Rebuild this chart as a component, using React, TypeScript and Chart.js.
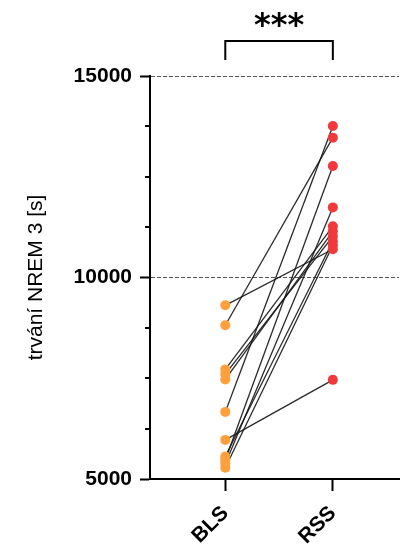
import React, { useEffect, useRef } from "react";
import { Chart, registerables } from "chart.js";

Chart.register(...registerables);

// Paired NREM 3 durations per subject, baseline sleep (BLS) vs recovery sleep (RSS)
const groups = ["BLS", "RSS"];
const blsValues = [9310, 8815, 7720, 7600, 7470, 6665, 5970, 5560, 5470, 5380, 5280];
const rssValues = [10700, 13470, 11270, 11020, 11145, 13760, 7460, 10900, 12765, 11740, 10800];
const yMin = 5000;
const yMax = 15000;
const yMinorStep = 1250;
const yMajorStep = 5000;
const yDashedLines = [10000, 15000];
const significance = "***";
const yTitle = "trvání NREM 3 [s]";

const ORANGE = "#FFA03C";
const RED = "#F0393C";
const FONT = "'Liberation Sans', Arial, sans-serif";

// Minor y ticks and the significance bracket above both groups
const decorPlugin = {
  id: "decor",
  afterDraw(chart: any) {
    const { ctx, chartArea } = chart;
    const x = chart.scales.x;
    const y = chart.scales.y;
    ctx.save();
    ctx.strokeStyle = "#000";
    ctx.lineWidth = 2;
    for (let v = yMin; v <= yMax; v += yMinorStep) {
      if (v % yMajorStep === 0) continue;
      const py = Math.round(y.getPixelForValue(v));
      ctx.beginPath();
      ctx.moveTo(chartArea.left - 5, py);
      ctx.lineTo(chartArea.left, py);
      ctx.stroke();
    }
    const x0 = x.getPixelForValue(0);
    const x1 = x.getPixelForValue(1);
    const top = chartArea.top - 35;
    const bottom = chartArea.top - 16;
    ctx.beginPath();
    ctx.moveTo(x0, bottom);
    ctx.lineTo(x0, top);
    ctx.lineTo(x1, top);
    ctx.lineTo(x1, bottom);
    ctx.stroke();
    ctx.fillStyle = "#000";
    ctx.font = "bold 32px 'DejaVu Sans', sans-serif";
    ctx.textAlign = "center";
    ctx.textBaseline = "alphabetic";
    ctx.fillText(significance, (x0 + x1) / 2, chartArea.top - 41);
    ctx.restore();
  },
};

export default function App() {
  const canvasRef = useRef<HTMLCanvasElement | null>(null);

  useEffect(() => {
    const canvas = canvasRef.current;
    if (!canvas) return;

    const pairLines = blsValues.map((b, i) => ({
      label: `pair-${i}`,
      data: [
        { x: 0, y: b },
        { x: 1, y: rssValues[i] },
      ],
      showLine: true,
      borderColor: "rgba(20,20,20,0.9)",
      borderWidth: 1.3,
      pointRadius: 0,
      order: 1,
    }));

    const chart = new Chart(canvas, {
      type: "scatter",
      data: {
        datasets: [
          {
            label: groups[0],
            data: blsValues.map((v) => ({ x: 0, y: v })),
            pointRadius: 5,
            pointBackgroundColor: ORANGE,
            pointBorderWidth: 0,
            order: 0,
          },
          {
            label: groups[1],
            data: rssValues.map((v) => ({ x: 1, y: v })),
            pointRadius: 5,
            pointBackgroundColor: RED,
            pointBorderWidth: 0,
            order: 0,
          },
          ...pairLines,
        ] as any,
      },
      options: {
        animation: false,
        responsive: false,
        devicePixelRatio: 1,
        layout: { padding: { top: 76, right: 2, bottom: 0, left: 0 } },
        plugins: {
          legend: { display: false },
          tooltip: { enabled: false },
        },
        scales: {
          x: {
            type: "linear",
            min: -0.7,
            max: 1.615,
            afterBuildTicks: (s: any) => {
              s.ticks = groups.map((_, i) => ({ value: i }));
            },
            afterFit: (s: any) => {
              s.height = 72;
            },
            ticks: {
              autoSkip: false,
              minRotation: 45,
              maxRotation: 45,
              padding: 10,
              color: "#000",
              font: { family: FONT, size: 21, weight: "bold" },
              callback: (v: any) => groups[v] ?? "",
            },
            grid: {
              drawOnChartArea: false,
              tickLength: 12,
              tickWidth: 2,
              tickColor: "#000",
            },
            border: { display: true, color: "#000", width: 2 },
          },
          y: {
            min: yMin,
            max: yMax,
            afterFit: (s: any) => {
              s.width = 150;
            },
            ticks: {
              stepSize: yMinorStep,
              autoSkip: false,
              padding: 8,
              color: "#000",
              font: { family: FONT, size: 21, weight: "bold" },
              callback: (v: any) => (v % yMajorStep === 0 ? String(v) : ""),
            },
            grid: {
              drawOnChartArea: true,
              lineWidth: 1,
              color: (c: any) =>
                c.tick && yDashedLines.includes(c.tick.value) ? "#555" : "rgba(0,0,0,0)",
              tickLength: 10,
              tickWidth: 2,
              tickColor: (c: any) =>
                c.tick && c.tick.value % yMajorStep === 0 ? "#000" : "rgba(0,0,0,0)",
            },
            border: { display: true, color: "#000", width: 2, dash: [4, 2] },
            title: {
              display: true,
              text: yTitle,
              color: "#000",
              font: { family: FONT, size: 21 },
              padding: { top: 24, bottom: 0 },
            },
          },
        },
      },
      plugins: [decorPlugin],
    });

    return () => chart.destroy();
  }, []);

  return (
    <div style={{ position: "absolute", left: 0, top: 0, width: 404, height: 551, background: "#fff" }}>
      <canvas ref={canvasRef} width={404} height={551} style={{ width: 404, height: 551, display: "block" }} />
    </div>
  );
}
